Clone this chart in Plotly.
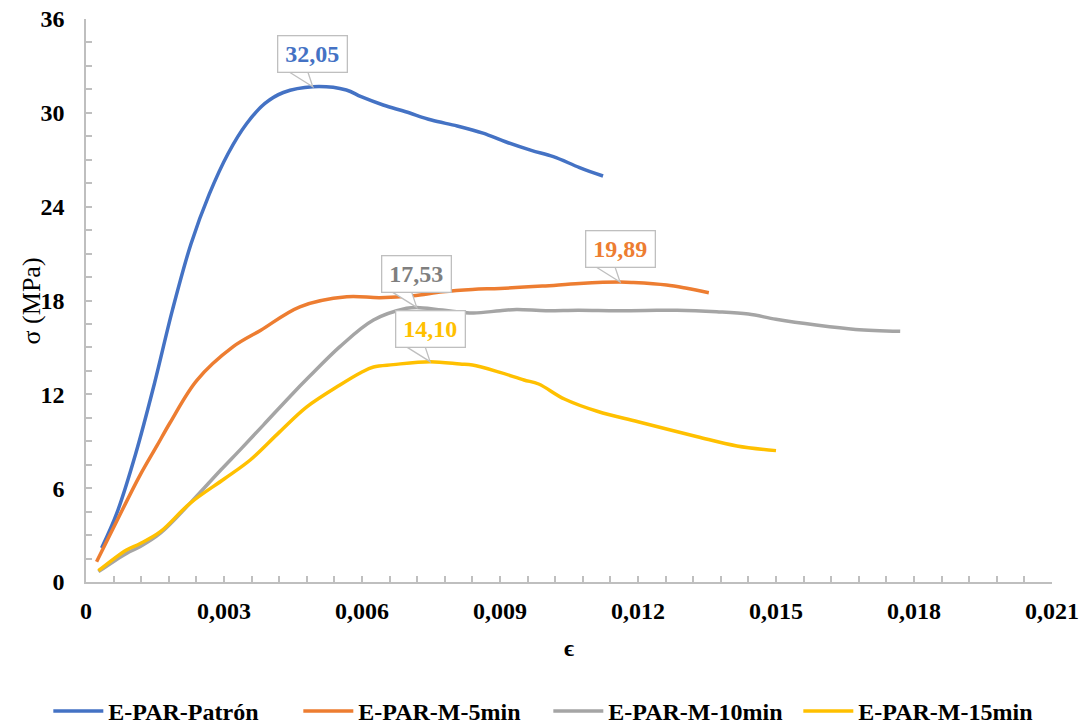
import numpy as np
import plotly.graph_objects as go

# ---------------- data ----------------
series_names = ["E-PAR-Patrón", "E-PAR-M-5min", "E-PAR-M-10min", "E-PAR-M-15min"]
series_colors = ["#4472C4", "#ED7D31", "#A5A5A5", "#FFC000"]
label_colors = ["#4472C4", "#ED7D31", "#7F7F7F", "#FFC000"]
peak_labels = ["32,05", "19,89", "17,53", "14,10"]

patron_x = [0.00034, 0.00067, 0.00108, 0.00148, 0.00188, 0.00228, 0.00268, 0.00309, 0.00349,
            0.00389, 0.00429, 0.00493, 0.00566, 0.00598, 0.00646, 0.00695, 0.00751, 0.00807,
            0.00863, 0.00912, 0.00968, 0.01016, 0.01073, 0.01124]
patron_y = [2.17, 4.4, 8.2, 12.6, 17.4, 21.6, 24.8, 27.4, 29.3, 30.6, 31.3, 31.67, 31.46, 31.03,
            30.5, 30.07, 29.54, 29.16, 28.7, 28.15, 27.6, 27.2, 26.5, 25.96]

m5_x = [0.00023, 0.00067, 0.00117, 0.00154, 0.00183, 0.00241, 0.0032, 0.0038, 0.00465, 0.00567,
        0.00639, 0.00711, 0.00775, 0.0084, 0.009, 0.00992, 0.01073, 0.01161, 0.0119, 0.01262,
        0.01306, 0.01354]
m5_y = [1.3, 3.9, 6.8, 8.7, 10.2, 12.9, 15.05, 16.1, 17.6, 18.24, 18.18, 18.3, 18.56, 18.71,
        18.77, 18.92, 19.09, 19.18, 19.15, 18.99, 18.78, 18.5]

m10_x = [0.00027, 0.00088, 0.00117, 0.00161, 0.00226, 0.00293, 0.00335, 0.00386, 0.00443, 0.00486,
         0.00552, 0.00625, 0.00697, 0.00719, 0.00775, 0.00842, 0.009, 0.00936, 0.01, 0.0107,
         0.01155, 0.01241, 0.01285, 0.01371, 0.0144, 0.015, 0.01587, 0.01673, 0.0177]
m10_y = [0.66, 1.83, 2.25, 3.1, 5.03, 7.16, 8.45, 10.05, 11.85, 13.15, 15.05, 16.75, 17.5, 17.56,
         17.39, 17.2, 17.35, 17.42, 17.35, 17.38, 17.35, 17.37, 17.38, 17.28, 17.13, 16.8,
         16.43, 16.15, 16.03]

m15_x = [0.00027, 0.00088, 0.00117, 0.00161, 0.00226, 0.00301, 0.00357, 0.00421, 0.0048, 0.00552,
         0.00598, 0.00625, 0.00668, 0.00748, 0.00813, 0.0084, 0.009, 0.00952, 0.00984, 0.0104,
         0.01113, 0.012, 0.01329, 0.01415, 0.0150]
m15_y = [0.72, 2.05, 2.45, 3.2, 5.03, 6.6, 7.8, 9.6, 11.2, 12.6, 13.4, 13.75, 13.9, 14.09,
         13.94, 13.87, 13.4, 12.92, 12.66, 11.7, 10.9, 10.25, 9.29, 8.7, 8.4]

x_tick_vals = [0, 0.003, 0.006, 0.009, 0.012, 0.015, 0.018, 0.021]
x_tick_text = ["0", "0,003", "0,006", "0,009", "0,012", "0,015", "0,018", "0,021"]
y_tick_vals = [0, 6, 12, 18, 24, 30, 36]
y_tick_text = ["0", "6", "12", "18", "24", "30", "36"]

xs = [patron_x, m5_x, m10_x, m15_x]
ys = [patron_y, m5_y, m10_y, m15_y]

# ---------------- figure ----------------
FONT = "Liberation Serif"
AXIS_COLOR = "#BFBFBF"

fig = go.Figure()
for name, color, x, y in zip(series_names, series_colors, xs, ys):
    fig.add_trace(go.Scatter(x=x, y=y, name=name, mode="lines",
                             line=dict(color=color, width=3.5, shape="spline", smoothing=1.0)))

# callout labels at each curve's peak (box + wedge-shaped tail)
TAIL_H = 14
for x, y, txt, col in zip(xs, ys, peak_labels, label_colors):
    i = int(np.argmax(y))
    fig.add_shape(type="path", xref="x", yref="y", xsizemode="pixel", ysizemode="pixel",
                  xanchor=x[i], yanchor=y[i],
                  path=f"M-24,{TAIL_H + 1} L0,0 L-5,{TAIL_H + 1} Z",
                  fillcolor="white", line=dict(color=AXIS_COLOR, width=1.3), layer="above")
    fig.add_annotation(x=x[i], y=y[i], xref="x", yref="y", text=txt,
                       showarrow=False, xanchor="center", yanchor="bottom", yshift=TAIL_H,
                       bordercolor=AXIS_COLOR, borderwidth=1.3, bgcolor="white",
                       width=68, height=35, borderpad=0,
                       font=dict(family=FONT, size=24, color=col, weight="bold"))

fig.add_annotation(text="σ (MPa)", xref="paper", yref="paper", x=-0.056, y=0.5,
                   textangle=-90, showarrow=False, xanchor="center", yanchor="middle",
                   font=dict(family=FONT, size=26, color="black"))

fig.update_layout(
    width=1082, height=727,
    margin=dict(l=86, r=30, t=19, b=145, autoexpand=False),
    paper_bgcolor="white", plot_bgcolor="white",
    font=dict(family=FONT, size=24, color="black"),
    showlegend=True,
    legend=dict(orientation="h", x=-0.039, xanchor="left", y=-0.23, yanchor="middle",
                font=dict(family=FONT, size=24, color="black", weight="bold"),
                itemwidth=50, entrywidth=185, entrywidthmode="pixels"),
)

fig.update_xaxes(
    range=[0, 0.021], tickvals=x_tick_vals, ticktext=x_tick_text, automargin=False,
    showline=True, linecolor=AXIS_COLOR, linewidth=1.5, showgrid=False, zeroline=False,
    ticks="inside", ticklen=6, tickwidth=1.5, tickcolor=AXIS_COLOR,
    minor=dict(dtick=0.0006, tick0=0, ticks="inside", ticklen=6, tickwidth=1.5,
               tickcolor=AXIS_COLOR, showgrid=False),
    tickfont=dict(family=FONT, size=24, color="black", weight="bold"),
    ticklabelstandoff=6,
    title=dict(text="ϵ", standoff=17, font=dict(family=FONT, size=24, color="black", weight="bold")),
)
fig.update_yaxes(
    range=[0, 36], tickvals=y_tick_vals, ticktext=y_tick_text, automargin=False,
    showline=True, linecolor=AXIS_COLOR, linewidth=1.5, showgrid=False, zeroline=False,
    ticks="inside", ticklen=6, tickwidth=1.5, tickcolor=AXIS_COLOR,
    minor=dict(dtick=1.5, tick0=0, ticks="inside", ticklen=6, tickwidth=1.5,
               tickcolor=AXIS_COLOR, showgrid=False),
    tickfont=dict(family=FONT, size=24, color="black", weight="bold"),
    ticklabelstandoff=15,
)

fig.write_html("out.html")
